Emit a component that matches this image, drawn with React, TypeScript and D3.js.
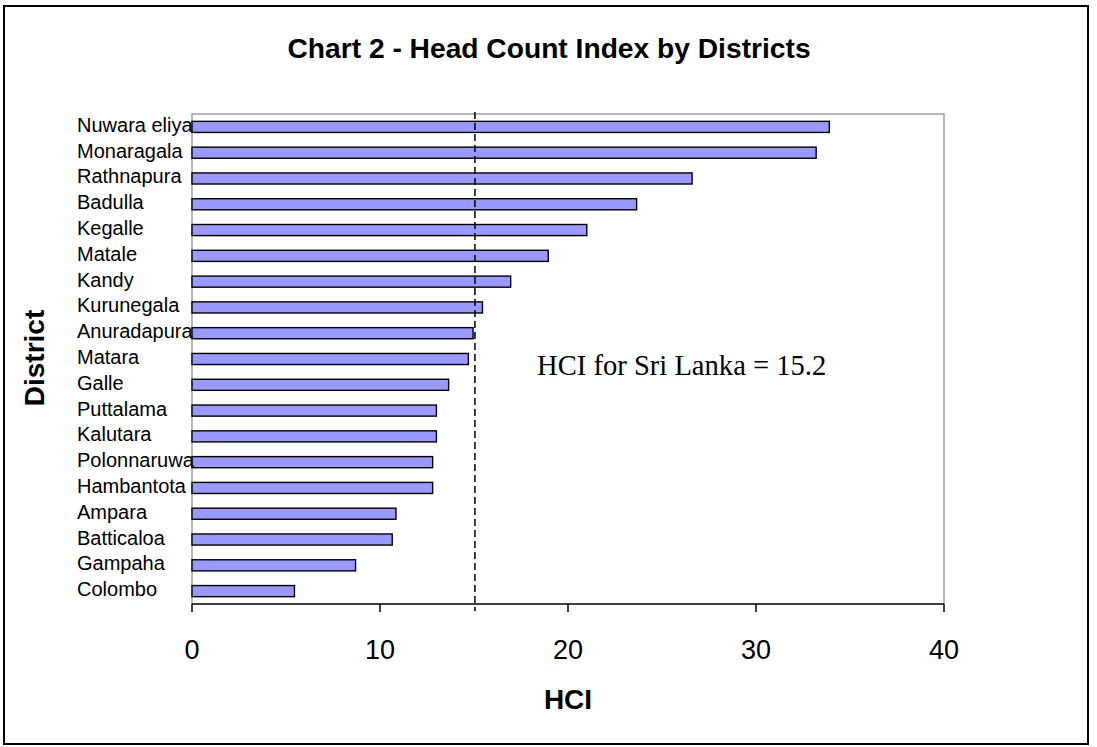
import React from "react";
import * as d3 from "d3";

const districts: string[] = [
  "Nuwara eliya", "Monaragala", "Rathnapura", "Badulla", "Kegalle", "Matale", "Kandy",
  "Kurunegala", "Anuradapura", "Matara", "Galle", "Puttalama", "Kalutara", "Polonnaruwa",
  "Hambantota", "Ampara", "Batticaloa", "Gampaha", "Colombo",
];
const hciValues: number[] = [
  33.9, 33.2, 26.6, 23.65, 21.0, 18.95, 16.95, 15.45, 14.95, 14.7, 13.65, 13.0, 13.0,
  12.8, 12.8, 10.85, 10.65, 8.7, 5.45,
];
const xTicks: number[] = [0, 10, 20, 30, 40];
const referenceLine = 15.05;
const title = "Chart 2 - Head Count Index by Districts";
const xTitle = "HCI";
const yTitle = "District";
const annotation = "HCI for Sri Lanka = 15.2";

const W = 1097;
const H = 747;
const plot = { left: 192, right: 944, top: 114, bottom: 604 };

export default function App() {
  const x = d3.scaleLinear().domain([0, 40]).range([plot.left, plot.right]);
  const y = d3
    .scaleBand<string>()
    .domain(districts)
    .range([plot.top, plot.bottom])
    .paddingInner(0.57)
    .paddingOuter(0.285);
  const sans = "Arial, 'Liberation Sans', sans-serif";
  const serif = "'Times New Roman', 'Liberation Serif', serif";
  return (
    <svg
      width={W}
      height={H}
      style={{ position: "absolute", left: 0, top: 0, background: "#fff" }}
    >
      <rect x={0} y={0} width={W} height={H} fill="#fff" />
      <rect x={4} y={6} width={1084} height={738} fill="none" stroke="#000" strokeWidth={2} />
      <text x={549} y={58} textAnchor="middle" fontFamily={sans} fontWeight="bold" fontSize={28.2}>
        {title}
      </text>
      {/* plot area border */}
      <path
        d={`M${plot.left},${plot.bottom}V${plot.top}H${plot.right}V${plot.bottom}`}
        fill="none"
        stroke="#a0a0a0"
        strokeWidth={1.5}
      />
      {/* bars */}
      {districts.map((d, i) => (
        <rect
          key={d}
          x={x(0)}
          y={y(d)!}
          width={x(hciValues[i]) - x(0)}
          height={y.bandwidth()}
          fill="#9999ff"
          stroke="#000"
          strokeWidth={1.4}
        />
      ))}
      {/* category labels */}
      {districts.map((d) => (
        <text
          key={"l" + d}
          x={77}
          y={y(d)! + y.bandwidth() / 2 + 5}
          fontFamily={sans}
          fontSize={20}
          fill="#000"
        >
          {d}
        </text>
      ))}
      {/* x axis */}
      <line x1={plot.left} x2={plot.right} y1={plot.bottom} y2={plot.bottom} stroke="#000" strokeWidth={1.6} />
      {xTicks.map((t) => (
        <g key={t}>
          <line x1={x(t)} x2={x(t)} y1={plot.bottom} y2={plot.bottom + 8} stroke="#000" strokeWidth={1.5} />
          <text x={x(t)} y={659} textAnchor="middle" fontFamily={sans} fontSize={27}>
            {t}
          </text>
        </g>
      ))}
      {/* reference line */}
      <line
        x1={x(referenceLine)}
        x2={x(referenceLine)}
        y1={112}
        y2={611}
        stroke="#000"
        strokeWidth={1.5}
        strokeDasharray="7,4"
      />
      <text x={537} y={375} fontFamily={serif} fontSize={28.6}>
        {annotation}
      </text>
      <text x={568} y={709} textAnchor="middle" fontFamily={sans} fontWeight="bold" fontSize={28}>
        {xTitle}
      </text>
      <text
        transform={`translate(44,358) rotate(-90)`}
        textAnchor="middle"
        fontFamily={sans}
        fontWeight="bold"
        fontSize={28}
      >
        {yTitle}
      </text>
    </svg>
  );
}
